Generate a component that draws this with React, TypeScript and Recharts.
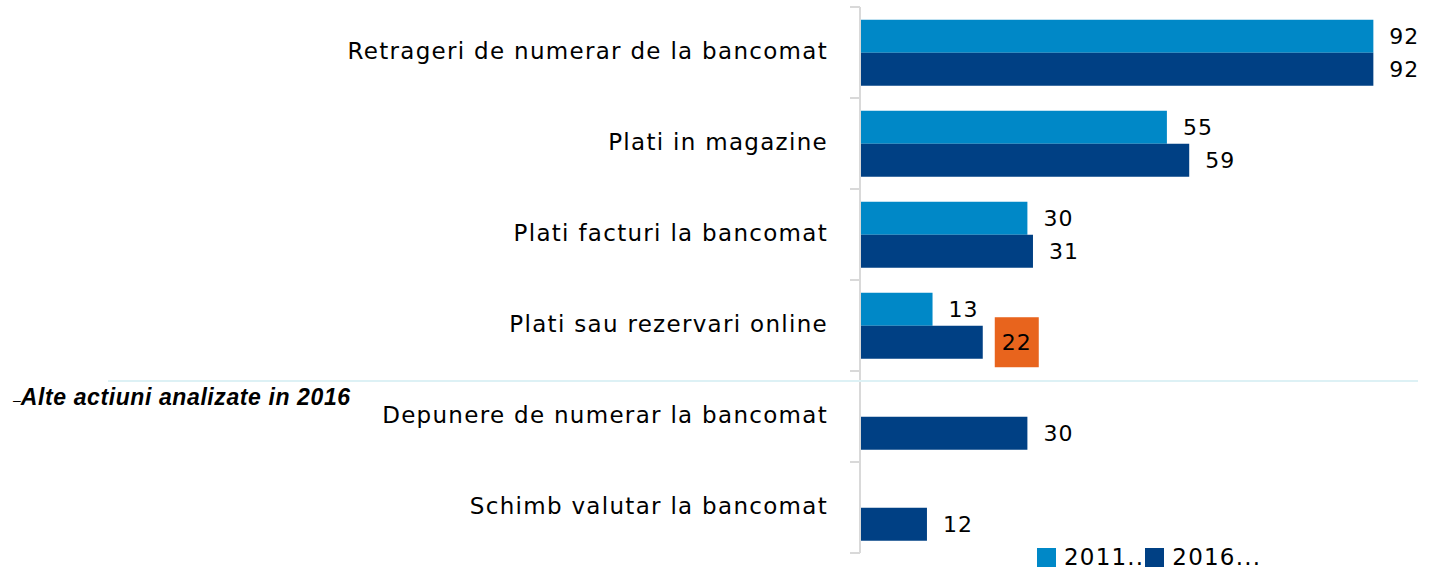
import { Bar, BarChart, LabelList, Legend, XAxis, YAxis } from "recharts";

// Ponderea utilizatorilor (%) pe tip de operatiune, 2011 vs 2016
const categories = [
  "Retrageri de numerar de la bancomat",
  "Plati in magazine",
  "Plati facturi la bancomat",
  "Plati sau rezervari online",
  "Depunere de numerar la bancomat",
  "Schimb valutar la bancomat",
];
const values2011: (number | null)[] = [92, 55, 30, 13, null, null];
const values2016: number[] = [92, 59, 31, 22, 30, 12];
const legendLabels = ["2011..", "2016..."];
const sectionTitle = "Alte actiuni analizate in 2016";
const highlightIndex = 3;

const LIGHT = "#0088C7";
const DARK = "#004084";
const ORANGE = "#E8641D";
const AXIS_GREY = "#D9D9D9";
const FONT = "'DejaVu Sans', sans-serif";

const W = 1441;
const H = 577;
const AXIS_X = 860;

const data = categories.map((name, i) => ({
  name,
  y2011: values2011[i],
  y2016: values2016[i],
}));

function CategoryTick(props: any) {
  const { y, payload, index } = props;
  const half = payload?.offset ?? 45.5;
  const top = y - half;
  return (
    <g>
      <line x1={AXIS_X - 10} x2={AXIS_X} y1={top} y2={top} stroke={AXIS_GREY} strokeWidth={2} />
      {index === categories.length - 1 && (
        <line x1={AXIS_X - 10} x2={AXIS_X} y1={y + half} y2={y + half} stroke={AXIS_GREY} strokeWidth={2} />
      )}
      {index === highlightIndex && (
        <line x1={108} x2={1418} y1={y + half + 10} y2={y + half + 10} stroke="#DDF1F5" strokeWidth={2} />
      )}
      {index === highlightIndex + 1 && (
        <text x={13} y={top + 34} fontFamily="'Liberation Sans', Arial, sans-serif" fill="#000">
          <tspan fontSize={14}>–</tspan>
          <tspan fontSize={23} fontWeight="bold" fontStyle="italic" letterSpacing={0.6}>{sectionTitle}</tspan>
        </text>
      )}
      <text
        x={AXIS_X - 32}
        y={y - 2}
        textAnchor="end"
        dominantBaseline="central"
        fontFamily={FONT}
        fontSize={23}
        letterSpacing={1.3}
        fill="#000"
      >
        {payload.value}
      </text>
    </g>
  );
}

function ValueLabel(props: any) {
  const { x, y, width, height, value, index, highlight } = props;
  if (value == null) return null;
  const cy = y + height / 2;
  const x0 = x + width;
  if (highlight && index === highlightIndex) {
    return (
      <g>
        <rect x={x0 + 12} y={cy - 25} width={44} height={50} fill={ORANGE} />
        <text x={x0 + 34} y={cy} textAnchor="middle" dominantBaseline="central" fontFamily={FONT} fontSize={22} letterSpacing={1} fill="#000">
          {value}
        </text>
      </g>
    );
  }
  return (
    <text x={x0 + 16} y={cy} dominantBaseline="central" fontFamily={FONT} fontSize={22} letterSpacing={1} fill="#000">
      {value}
    </text>
  );
}

function LegendBox() {
  const colors = [LIGHT, DARK];
  return (
    <div style={{ display: "flex", alignItems: "center", fontFamily: FONT, fontSize: 23, letterSpacing: 1.2 }}>
      {legendLabels.map((label, i) => (
        <div key={label} style={{ display: "flex", alignItems: "center", marginRight: 1 }}>
          <span style={{ width: 19, height: 19, background: colors[i], display: "inline-block", marginRight: 8 }} />
          <span>{label}</span>
        </div>
      ))}
    </div>
  );
}

export default function App() {
  return (
    <div style={{ position: "absolute", left: 0, top: 0, width: W, height: H, background: "#fff" }}>
      <BarChart
        width={W}
        height={H}
        data={data}
        layout="vertical"
        margin={{ top: 7, right: 23, bottom: 24, left: 0 }}
        barCategoryGap="14%"
        barGap={0}
      >
        <XAxis type="number" domain={[0, 100]} hide />
        <YAxis
          type="category"
          dataKey="name"
          width={AXIS_X}
          axisLine={{ stroke: AXIS_GREY, strokeWidth: 2 }}
          tickLine={false}
          tick={<CategoryTick />}
          interval={0}
        />
        <Legend
          layout="horizontal"
          verticalAlign="middle"
          align="center"
          content={<LegendBox />}
          wrapperStyle={{ left: 1037, top: 544, width: 320 }}
        />
        <Bar dataKey="y2011" fill={LIGHT} isAnimationActive={false}>
          <LabelList dataKey="y2011" content={<ValueLabel />} />
        </Bar>
        <Bar dataKey="y2016" fill={DARK} isAnimationActive={false}>
          <LabelList dataKey="y2016" content={<ValueLabel highlight />} />
        </Bar>
      </BarChart>
    </div>
  );
}
